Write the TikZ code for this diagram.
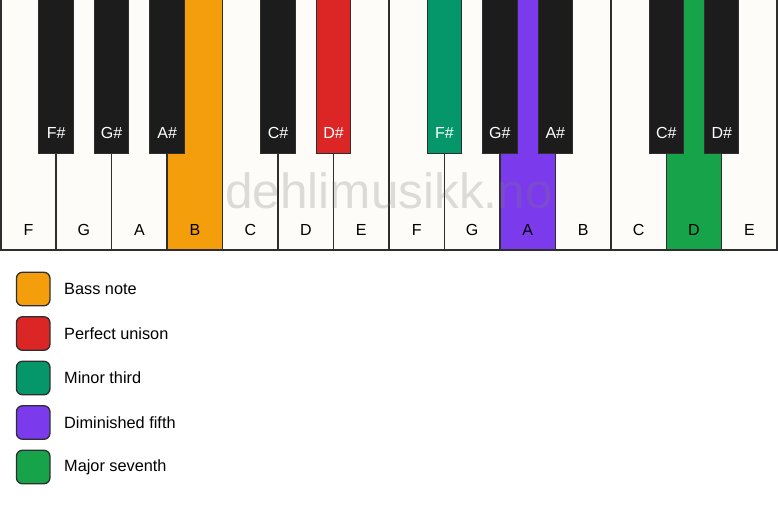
\documentclass[tikz,border=0pt]{standalone}
\usepackage{fontspec}
\setmainfont{Liberation Sans}
\definecolor{whitekey}{HTML}{FDFCF8}
\definecolor{blackkey}{HTML}{1C1C1C}
\definecolor{keyline}{HTML}{2E2E2E}
\definecolor{cbass}{HTML}{F59E0B}
\definecolor{cunison}{HTML}{DC2626}
\definecolor{cminor}{HTML}{059669}
\definecolor{cdim}{HTML}{7C3AED}
\definecolor{cmaj}{HTML}{16A34A}
\definecolor{wmark}{HTML}{7A7A7A}
\begin{document}
\begin{tikzpicture}[x=1pt,y=-1pt,
  wkey/.style={draw=keyline, line width=1.5pt, fill=whitekey, minimum width=55.46pt, minimum height=252pt, anchor=north west, inner sep=0pt, outer sep=0pt},
  bkey/.style={draw=keyline, line width=1pt, fill=blackkey, minimum width=34.5pt, minimum height=155pt, anchor=north, inner sep=0pt, outer sep=0pt},
  keytext/.style={font=\fontsize{16}{16}\selectfont, anchor=base, inner sep=0pt},
  legbox/.style={draw=keyline, line width=1.3pt, rounded corners=6pt, minimum width=33.5pt, minimum height=33.5pt, inner sep=0pt, anchor=center},
  legtext/.style={font=\fontsize{16.3}{16.3}\selectfont, anchor=west, inner sep=0pt},
  watermark/.style={font=\fontsize{49.5}{49.5}\selectfont, text=wmark, opacity=0.25, anchor=base, inner sep=0pt}
]
\useasboundingbox (0,0) rectangle (778,506);
\fill[white] (0,0) rectangle (778,506);
% white keys
\foreach \i/\n/\c in {0/F/whitekey,1/G/whitekey,2/A/whitekey,3/B/cbass,4/C/whitekey,5/D/whitekey,6/E/whitekey,7/F/whitekey,8/G/whitekey,9/A/cdim,10/B/whitekey,11/C/whitekey,12/D/cmaj,13/E/whitekey}{
  \node[wkey, fill=\c] (w\i) at ({0.75+\i*55.46},-2) {};
  \node[keytext] (wl\i) at ([yshift=14.5pt]w\i.south) {\n};
}
% watermark
\node[watermark] (wm) at (389,208) {dehlimusikk.no};
% black keys
\foreach \i/\n/\c in {1/F\#/blackkey,2/G\#/blackkey,3/A\#/blackkey,5/C\#/blackkey,6/D\#/cunison,8/F\#/cminor,9/G\#/blackkey,10/A\#/blackkey,12/C\#/blackkey,13/D\#/blackkey}{
  \node[bkey, fill=\c] (b\i) at ({0.75+\i*55.46},-2) {};
  \node[keytext, text=white] (bl\i) at ([yshift=14.5pt]b\i.south) {\n};
}
% legend
\foreach \k/\c/\t [count=\j from 0] in {a/cbass/Bass note,b/cunison/Perfect unison,c/cminor/Minor third,d/cdim/Diminished fifth,e/cmaj/Major seventh}{
  \node[legbox, fill=\c] (lb\k) at (33.2,{289+\j*44.5}) {};
  \node[legtext] (lt\k) at (64,{289+\j*44.5}) {\t};
}
\end{tikzpicture}
\end{document}
